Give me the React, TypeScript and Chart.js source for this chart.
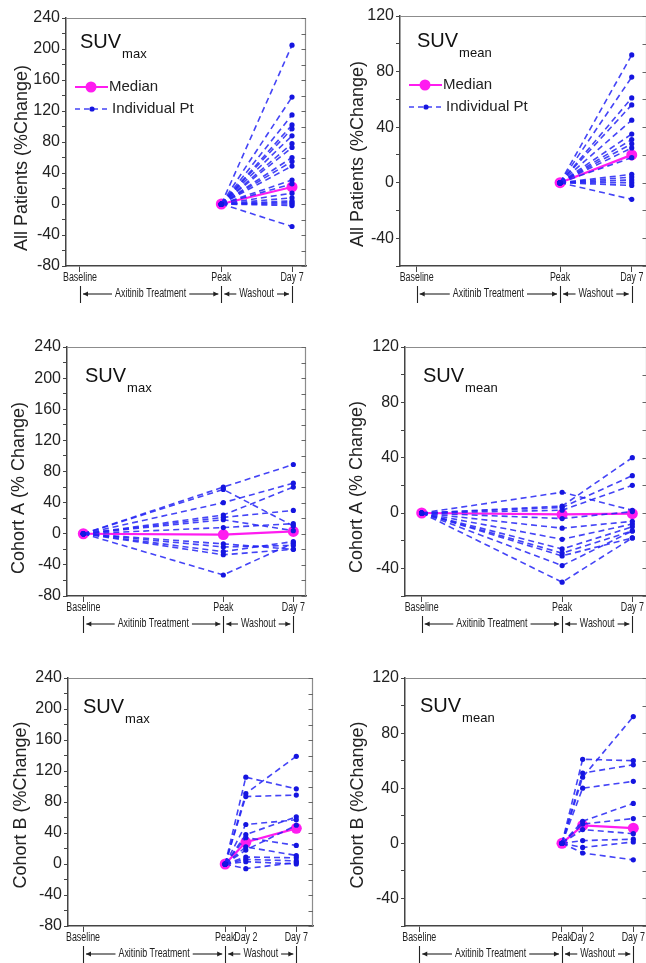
import React, { useEffect, useRef } from 'react';
import { Chart, registerables } from 'chart.js';

Chart.register(...registerables);

// ---------- categories / tick labels ----------
const timePointNames = ['Baseline', 'Peak', 'Day 2', 'Day 7'];
const timePointX = [0, 2, 2.29, 3];
const yRangeMax = [-80, 240];
const yRangeMean = [-60, 120];
const PEAK_REF = 0; // % change relative to peak is 0 at Peak
const BASE_REF = 0; // % change relative to baseline is 0 at Baseline

// ---------- All patients (Peak -> Day 7) ----------
const allMaxDay7 = [205, 138, 115, 102, 97, 88, 78, 73, 60, 55, 49, 31, 26, 14, 8, 4, 2, 0, -2, -29];
const allMaxMedian = [0, 22];
const allMeanDay7 = [92, 76, 61, 56, 45, 35, 31, 28, 25, 18, 6, 4, 2, 0, -2, -12];
const allMeanMedian = [0, 20];

// ---------- Cohort A (Baseline -> Peak -> Day 7) ----------
const cohortAMaxPeak = [60, 57, 40, 24, 21, 18, 8, -13, -17, -23, -27, -53];
const cohortAMaxDay7 = [89, 10, 65, 60, 30, 4, 13, -20, -15, -10, -20, -12];
const cohortAMaxMedian = [0, -1, 3];
const cohortAMeanPeak = [15, 5, 4, 2, -4, -11, -19, -26, -29, -31, -38, -50];
const cohortAMeanDay7 = [2, 40, 27, 20, 1, -6, -8, -10, -13, -18, -13, -18];
const cohortAMeanMedian = [0, -1, -0.5];

// ---------- Cohort B (Peak -> Day 2 -> Day 7) ----------
const cohortBMaxDay2 = [112, 91, 87, 51, 38, 34, 22, 18, 9, 6, 3, -6];
const cohortBMaxDay7 = [97, 139, 89, 57, 61, 24, 11, 50, 8, 4, 0, 2];
const cohortBMaxMedian = [0, 28, 46];
const cohortBMeanDay2 = [48, 61, 51, 40, 16, 14, 10, 2, -3, -7];
const cohortBMeanDay7 = [92, 60, 57, 45, 29, 18, 7, 3, 1, -12];
const cohortBMeanMedian = [0, 13, 11];

const X_BASE = timePointX[0], X_PEAK = timePointX[1], X_D2 = timePointX[2], X_D7 = timePointX[3];

const allSeries = (d7: number[]) => d7.map((v) => [{ x: X_PEAK, y: PEAK_REF }, { x: X_D7, y: v }]);
const allMed = (m: number[]) => [{ x: X_PEAK, y: m[0] }, { x: X_D7, y: m[1] }];
const aSeries = (pk: number[], d7: number[]) =>
  pk.map((v, i) => [{ x: X_BASE, y: BASE_REF }, { x: X_PEAK, y: v }, { x: X_D7, y: d7[i] }]);
const aMed = (m: number[]) => [{ x: X_BASE, y: m[0] }, { x: X_PEAK, y: m[1] }, { x: X_D7, y: m[2] }];
const bSeries = (d2: number[], d7: number[]) =>
  d2.map((v, i) => [{ x: X_PEAK, y: PEAK_REF }, { x: X_D2, y: v }, { x: X_D7, y: d7[i] }]);
const bMed = (m: number[]) => [{ x: X_PEAK, y: m[0] }, { x: X_D2, y: m[1] }, { x: X_D7, y: m[2] }];

const tickIdx3 = [0, 1, 3];
const tickIdx4 = [0, 1, 2, 3];

const FONT = "'Liberation Sans', Arial, Helvetica, sans-serif";
const SMALL_FONT = `12px ${FONT}`;
const CONDENSE = 0.74;

const panels = [
  {
    box: { x: 0, y: 0, w: 320, h: 320 }, plot: { l: 66, r: 306, t: 18, b: 266 }, xr: [-0.198, 3.198], yr: yRangeMax,
    ticks: tickIdx3, title: 'All Patients (%Change)', tp: [22.5, 158], sub: 'max', suv: [14, 30], legend: true,
    series: allSeries(allMaxDay7), median: allMed(allMaxMedian),
  },
  {
    box: { x: 320, y: 0, w: 340, h: 320 }, plot: { l: 400, r: 647, t: 16, b: 266 }, xr: [-0.233, 3.213], yr: yRangeMean,
    ticks: tickIdx3, title: 'All Patients (%Change)', tp: [38, 154], sub: 'mean', suv: [17, 31], legend: true,
    series: allSeries(allMeanDay7), median: allMed(allMeanMedian),
  },
  {
    box: { x: 0, y: 320, w: 320, h: 320 }, plot: { l: 67, r: 306, t: 347, b: 596 }, xr: [-0.233, 3.181], yr: yRangeMax,
    ticks: tickIdx3, title: 'Cohort A (% Change)', tp: [19.5, 168], sub: 'max', suv: [18, 35], legend: false,
    series: aSeries(cohortAMaxPeak, cohortAMaxDay7), median: aMed(cohortAMaxMedian),
  },
  {
    box: { x: 320, y: 320, w: 340, h: 320 }, plot: { l: 405, r: 647, t: 347, b: 596 }, xr: [-0.238, 3.209], yr: yRangeMean,
    ticks: tickIdx3, title: 'Cohort A (% Change)', tp: [37, 167], sub: 'mean', suv: [18, 35], legend: false,
    series: aSeries(cohortAMeanPeak, cohortAMeanDay7), median: aMed(cohortAMeanMedian),
  },
  {
    box: { x: 0, y: 640, w: 320, h: 323 }, plot: { l: 68, r: 313, t: 678, b: 926 }, xr: [-0.211, 3.235], yr: yRangeMax,
    ticks: tickIdx4, title: 'Cohort B (%Change)', tp: [21, 165], sub: 'max', suv: [15, 35], legend: false,
    series: bSeries(cohortBMaxDay2, cohortBMaxDay7), median: bMed(cohortBMaxMedian),
  },
  {
    box: { x: 320, y: 640, w: 340, h: 323 }, plot: { l: 405, r: 647, t: 678, b: 926 }, xr: [-0.2, 3.192], yr: yRangeMean,
    ticks: tickIdx4, title: 'Cohort B (%Change)', tp: [38, 165], sub: 'mean', suv: [15, 34], legend: false,
    series: bSeries(cohortBMeanDay2, cohortBMeanDay7), median: bMed(cohortBMeanMedian),
  },
];

const BLUE_LINE = 'rgba(35,35,245,0.85)';
const BLUE_PT = '#1515e0';
const MAGENTA = '#ff1cf0';

function arrow(ctx: CanvasRenderingContext2D, from: number, to: number, y: number) {
  ctx.beginPath();
  ctx.moveTo(from, y);
  ctx.lineTo(to, y);
  ctx.stroke();
  const dir = to > from ? 1 : -1;
  ctx.beginPath();
  ctx.moveTo(to, y);
  ctx.lineTo(to - dir * 5, y - 2.5);
  ctx.lineTo(to - dir * 5, y + 2.5);
  ctx.closePath();
  ctx.fill();
}

// draws horizontally condensed, centred text; returns drawn width
function condensedText(ctx: CanvasRenderingContext2D, text: string, cx: number, cy: number) {
  ctx.save();
  ctx.translate(cx, cy);
  ctx.scale(CONDENSE, 1);
  ctx.textAlign = 'center';
  ctx.textBaseline = 'middle';
  ctx.fillText(text, 0, 0);
  const w = ctx.measureText(text).width * CONDENSE;
  ctx.restore();
  return w;
}

function makeDeco(p: any, tickVals: number[], tickNames: string[]) {
  return {
    id: 'deco',
    afterDraw(chart: any) {
      const { ctx, chartArea: a } = chart;
      const xs = chart.scales.x;
      const ys = chart.scales.y;
      ctx.save();
      ctx.setLineDash([]);
      // top / right frame
      ctx.strokeStyle = '#8c8c8c';
      ctx.lineWidth = 1.2;
      ctx.beginPath();
      ctx.moveTo(a.left, a.top + 0.5);
      ctx.lineTo(a.right - 0.5, a.top + 0.5);
      ctx.lineTo(a.right - 0.5, a.bottom);
      ctx.stroke();
      // inward mirror ticks on the right axis
      ctx.strokeStyle = '#666';
      ctx.lineWidth = 1;
      ys.ticks.forEach((t: any) => {
        const py = Math.round(ys.getPixelForValue(t.value)) + 0.5;
        ctx.beginPath();
        ctx.moveTo(a.right - 4.5, py);
        ctx.lineTo(a.right, py);
        ctx.stroke();
      });

      // SUV title with subscript
      ctx.fillStyle = '#111';
      ctx.textAlign = 'left';
      ctx.textBaseline = 'alphabetic';
      ctx.font = `20px ${FONT}`;
      const sx = a.left + p.suv[0];
      const sy = a.top + p.suv[1];
      ctx.fillText('SUV', sx, sy);
      const w = ctx.measureText('SUV').width;
      ctx.font = `13px ${FONT}`;
      ctx.fillText(p.sub, sx + w + 1, sy + 10);

      // legend
      if (p.legend) {
        const lx = a.left + 9;
        const ly1 = a.top + 69;
        const ly2 = a.top + 91;
        ctx.strokeStyle = MAGENTA;
        ctx.fillStyle = MAGENTA;
        ctx.lineWidth = 2;
        ctx.beginPath();
        ctx.moveTo(lx, ly1);
        ctx.lineTo(lx + 33, ly1);
        ctx.stroke();
        ctx.beginPath();
        ctx.arc(lx + 16, ly1, 5.5, 0, Math.PI * 2);
        ctx.fill();
        ctx.strokeStyle = BLUE_LINE;
        ctx.lineWidth = 1.6;
        ctx.setLineDash([5, 4]);
        ctx.beginPath();
        ctx.moveTo(lx, ly2);
        ctx.lineTo(lx + 34, ly2);
        ctx.stroke();
        ctx.setLineDash([]);
        ctx.fillStyle = BLUE_PT;
        ctx.beginPath();
        ctx.arc(lx + 17, ly2, 2.6, 0, Math.PI * 2);
        ctx.fill();
        ctx.fillStyle = '#222';
        ctx.font = `15px ${FONT}`;
        ctx.textBaseline = 'middle';
        ctx.fillText('Median', lx + 34, ly1);
        ctx.fillText('Individual Pt', lx + 37, ly2);
      }

      // y-axis title
      ctx.save();
      ctx.translate(p.tp[0], p.tp[1]);
      ctx.rotate(-Math.PI / 2);
      ctx.fillStyle = '#222';
      ctx.font = `18px ${FONT}`;
      ctx.textAlign = 'center';
      ctx.textBaseline = 'middle';
      ctx.fillText(p.title, 0, 0);
      ctx.restore();

      // x tick labels (condensed)
      ctx.fillStyle = '#222';
      ctx.font = SMALL_FONT;
      tickVals.forEach((v, i) => {
        condensedText(ctx, tickNames[i], xs.getPixelForValue(v), a.bottom + 12);
      });

      // phase annotation row
      const ay = a.bottom + 28;
      const xb = xs.getPixelForValue(X_BASE);
      const xp = xs.getPixelForValue(X_PEAK);
      const xd = xs.getPixelForValue(X_D7);
      ctx.strokeStyle = '#222';
      ctx.fillStyle = '#222';
      ctx.lineWidth = 1.1;
      [xb, xp, xd].forEach((bx) => {
        const rx = Math.round(bx) + 0.5;
        ctx.beginPath();
        ctx.moveTo(rx, ay - 8);
        ctx.lineTo(rx, ay + 9);
        ctx.stroke();
      });
      ctx.font = SMALL_FONT;
      const seg = (x1: number, x2: number, label: string) => {
        const mid = (x1 + x2) / 2;
        const tw = condensedText(ctx, label, mid, ay);
        arrow(ctx, mid - tw / 2 - 3, x1 + 3, ay);
        arrow(ctx, mid + tw / 2 + 3, x2 - 3, ay);
      };
      seg(xb, xp, 'Axitinib Treatment');
      seg(xp, xd, 'Washout');
      ctx.restore();
    },
  };
}

function Panel({ p }: { p: any }) {
  const ref = useRef<HTMLCanvasElement>(null);
  useEffect(() => {
    const datasets: any[] = p.series.map((s: any, i: number) => ({
      label: i === 0 ? 'Individual Pt' : `Pt ${i + 1}`,
      data: s,
      borderColor: BLUE_LINE,
      borderWidth: 1.6,
      borderDash: [6, 4],
      pointRadius: 2.6,
      pointBackgroundColor: BLUE_PT,
      pointBorderWidth: 0,
      fill: false,
      tension: 0,
    }));
    datasets.push({
      label: 'Median',
      data: p.median,
      borderColor: MAGENTA,
      borderWidth: 2.2,
      pointRadius: 5.5,
      pointBackgroundColor: MAGENTA,
      pointBorderColor: MAGENTA,
      pointBorderWidth: 0,
      fill: false,
      tension: 0,
    });
    const tickVals = p.ticks.map((i: number) => timePointX[i]);
    const tickNames = p.ticks.map((i: number) => timePointNames[i]);
    const chart = new Chart(ref.current as HTMLCanvasElement, {
      type: 'line',
      data: { datasets },
      options: {
        responsive: false,
        animation: false,
        events: [],
        layout: {
          padding: {
            top: p.plot.t - p.box.y,
            right: p.box.x + p.box.w - p.plot.r,
            left: 0,
            bottom: 0,
          },
        },
        plugins: { legend: { display: false }, tooltip: { enabled: false } },
        scales: {
          x: {
            type: 'linear',
            min: p.xr[0],
            max: p.xr[1],
            afterBuildTicks: (s: any) => {
              s.ticks = tickVals.map((v: number) => ({ value: v }));
            },
            afterFit: (s: any) => {
              s.height = p.box.y + p.box.h - p.plot.b;
            },
            ticks: { display: false, autoSkip: false, maxRotation: 0 },
            grid: { drawOnChartArea: false, drawTicks: true, tickLength: 6, color: '#444', lineWidth: 1 },
            border: { display: true, color: '#444', width: 1.5 },
          },
          y: {
            type: 'linear',
            min: p.yr[0],
            max: p.yr[1],
            afterFit: (s: any) => {
              s.width = p.plot.l - p.box.x;
            },
            ticks: {
              stepSize: 20,
              autoSkip: false,
              padding: 2,
              color: '#222',
              font: { size: 16, family: FONT },
              callback: (v: any) => (Number(v) % 40 === 0 ? String(v) : ''),
            },
            grid: { drawOnChartArea: false, drawTicks: true, tickLength: 4, color: '#444', lineWidth: 1 },
            border: { display: true, color: '#444', width: 1.5 },
          },
        },
      },
      plugins: [makeDeco(p, tickVals, tickNames)],
    } as any);
    return () => chart.destroy();
  }, []);
  return (
    <canvas
      ref={ref}
      width={p.box.w}
      height={p.box.h}
      style={{ position: 'absolute', left: p.box.x, top: p.box.y, width: p.box.w, height: p.box.h }}
    />
  );
}

export default function App() {
  return (
    <div
      style={{
        position: 'absolute',
        left: 0,
        top: 0,
        width: 646,
        height: 963,
        overflow: 'hidden',
        background: '#fff',
      }}
    >
      {panels.map((p, i) => (
        <Panel key={i} p={p} />
      ))}
    </div>
  );
}
